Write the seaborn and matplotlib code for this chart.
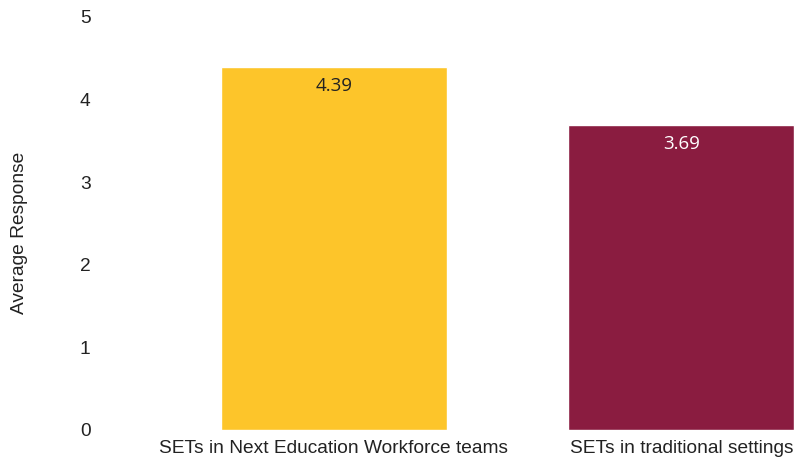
import matplotlib
matplotlib.use("Agg")
import matplotlib.pyplot as plt
import seaborn as sns
import pandas as pd

categories = ["SETs in Next Education Workforce teams", "SETs in traditional settings"]
values = [4.39, 3.69]
bar_colors = ["#FDC52A", "#8A1C40"]
label_colors = ["#222222", "#FFFFFF"]
y_ticks = [0, 1, 2, 3, 4, 5]

sns.set_theme(style="white")
plt.rcParams["font.family"] = ["Liberation Sans", "DejaVu Sans"]

df = pd.DataFrame({"group": categories, "value": values})

W, H = 798, 459
fig = plt.figure(figsize=(W / 100, H / 100), dpi=100)
left_px, bottom_px, top_px = 160.0, 430.0, 17.0
ax = fig.add_axes([left_px / W, (H - bottom_px) / H, (W - left_px) / W, (bottom_px - top_px) / H])

sns.barplot(data=df, x="group", y="value", hue="group", palette=bar_colors,
            width=0.65, legend=False, ax=ax, saturation=1)

# x-range so that the second bar sits near the right edge
ax.set_xlim(-0.5, (W - 334.5) / 347.0)
ax.set_ylim(0, 5)
ax.set_yticks(y_ticks)
ax.set_yticklabels([str(t) for t in y_ticks], fontsize=13.8, color="#222222")
ax.tick_params(axis="y", length=0, pad=50)
ax.tick_params(axis="x", length=0, pad=7, labelsize=13.8, labelcolor="#222222")
ax.set_xlabel("")
ax.set_ylabel("Average Response", fontsize=13.8, color="#222222")
ax.yaxis.set_label_coords((28 - left_px) / (W - left_px), (bottom_px - 233) / (bottom_px - top_px))
for s in ax.spines.values():
    s.set_visible(False)
ax.grid(False)

for i, (v, c) in enumerate(zip(values, label_colors)):
    ax.annotate(f"{v:.2f}", xy=(i, v), xytext=(0, -7), textcoords="offset points",
                ha="center", va="top", fontsize=13.5, color=c,
                family=["Open Sans", "DejaVu Sans"])

fig.savefig("out.png", dpi=100)
